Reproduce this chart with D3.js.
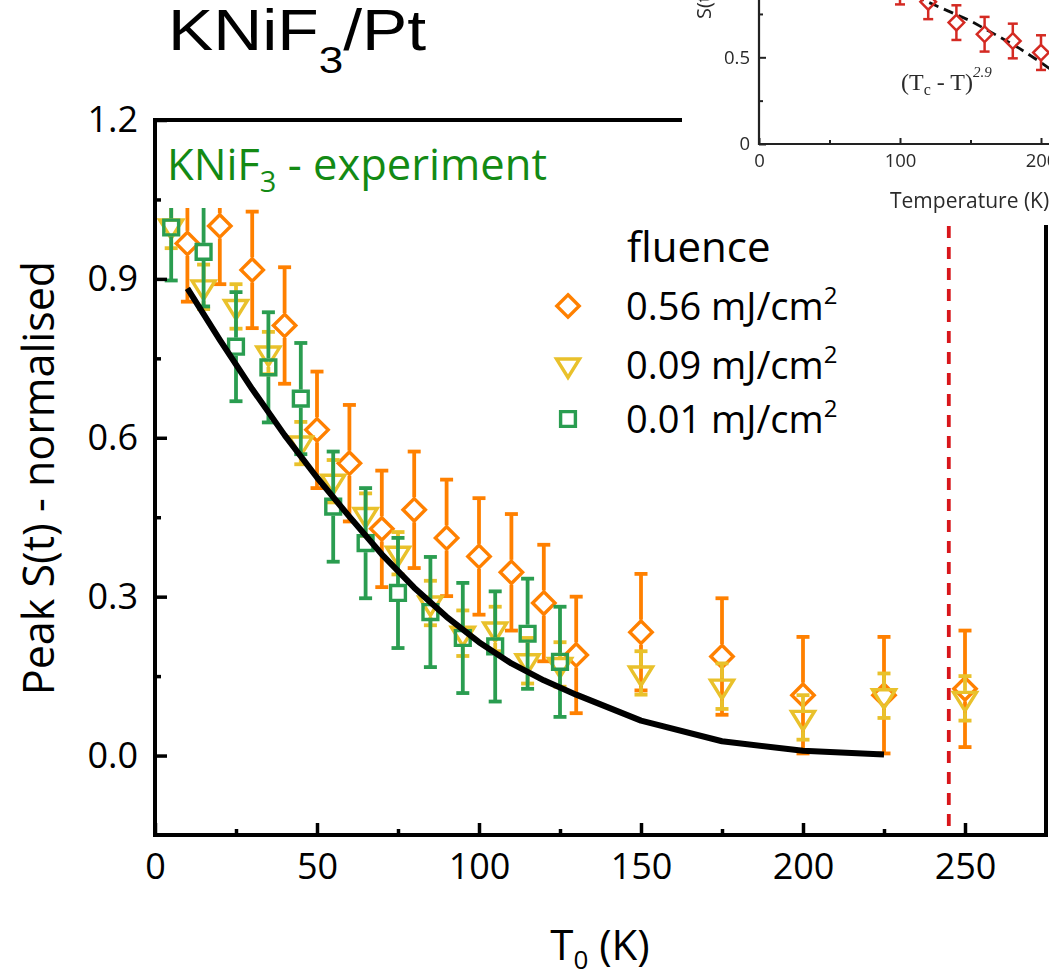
<!DOCTYPE html>
<html>
<head>
<meta charset="utf-8">
<script src="https://cdn.jsdelivr.net/npm/d3@7"></script>
<style>
  body { margin: 0; background: #fff; }
  svg { display: block; }
</style>
</head>
<body>
<svg id="chart" width="1049" height="973"></svg>
<script>
// ---- Peak S(t) vs initial temperature, three pump fluences ----
const T_HIGH = [10, 20, 30, 40, 50, 60, 70, 80, 90, 100, 110, 120, 130, 150, 175, 200, 225, 250];
const S_HIGH = [0.967, 1.0, 0.917, 0.812, 0.615, 0.552, 0.428, 0.464, 0.411, 0.376, 0.346, 0.288, 0.19, 0.233, 0.187, 0.114, 0.114, 0.126];
const E_HIGH = [0.11, 0.11, 0.11, 0.11, 0.11, 0.11, 0.11, 0.11, 0.11, 0.11, 0.11, 0.11, 0.11, 0.11, 0.11, 0.11, 0.11, 0.11];

const T_MID = [5, 15, 25, 35, 45, 55, 65, 75, 85, 95, 105, 115, 125, 150, 175, 200, 225, 250];
const S_MID = [1.0, 0.885, 0.848, 0.76, 0.59, 0.518, 0.455, 0.382, 0.288, 0.231, 0.239, 0.179, 0.172, 0.156, 0.131, 0.072, 0.113, 0.108];
const E_MID = [0.042, 0.042, 0.042, 0.04, 0.04, 0.04, 0.04, 0.04, 0.042, 0.043, 0.042, 0.043, 0.042, 0.041, 0.043, 0.042, 0.042, 0.042];

const T_LOW = [5, 15, 25, 35, 45, 55, 65, 75, 85, 95, 105, 115, 125];
const S_LOW = [0.997, 0.951, 0.772, 0.733, 0.674, 0.47, 0.401, 0.307, 0.271, 0.222, 0.206, 0.23, 0.177];
const E_LOW = [0.1, 0.103, 0.103, 0.104, 0.105, 0.104, 0.104, 0.104, 0.104, 0.104, 0.104, 0.104, 0.104];

// model curve
const T_MODEL = [10, 20, 30, 40, 50, 60, 70, 80, 90, 100, 110, 120, 130, 150, 175, 200, 225];
const S_MODEL = [0.882, 0.785, 0.692, 0.605, 0.525, 0.451, 0.38, 0.317, 0.262, 0.214, 0.174, 0.142, 0.115, 0.066, 0.027, 0.009, 0.002];

const T_CRITICAL = 245;

const X_TICKS = [0, 50, 100, 150, 200, 250];
const X_MINOR = [25, 75, 125, 175, 225];
const Y_TICKS = [0.0, 0.3, 0.6, 0.9, 1.2];
const Y_MINOR = [0.15, 0.45, 0.75, 1.05];

const LEGEND_LABELS = ["0.56", "0.09", "0.01"];

// ---- small panel: static order parameter vs temperature ----
const T_STATIC = [100, 120, 140, 160, 180, 200];
const S_STATIC = [0.9, 0.82, 0.7, 0.633, 0.594, 0.527];
const E_STATIC = [0.095, 0.1, 0.1, 0.1, 0.1, 0.1];
const T_STATIC_FIT = [100, 125, 150, 170, 185, 200, 212];
const S_STATIC_FIT = [0.89, 0.8, 0.71, 0.62, 0.55, 0.47, 0.4];
const INSET_X_TICKS = [0, 100, 200];
const INSET_X_MINOR = [50, 150];
const INSET_Y_TICKS = [0, 0.5];
const INSET_Y_MINOR = [0.25, 0.75];

const svg = d3.select("#chart");
const FONT = "'Open Sans', 'Noto Sans', sans-serif";

const x = d3.scaleLinear().domain([0, 275]).range([155, 1046]);
const y = d3.scaleLinear().domain([-0.15, 1.2]).range([835, 120]);

// symbol outlines
const diamondPath = r => `M0,${-r}L${r},0L0,${r}L${-r},0Z`;
const squarePath = h => `M${-h},${-h}H${h}V${h}H${-h}Z`;
const triDownPath = (w, t, a) => `M${-w},${-t}H${w}L0,${a}Z`;

const series = [
  { T: T_HIGH, S: S_HIGH, E: E_HIGH, color: "#ff8000", path: diamondPath(11.2), gapTop: 12.5, gapBot: 12.5 },
  { T: T_MID,  S: S_MID,  E: E_MID,  color: "#e9c12b", path: triDownPath(11.5, 6, 12.5), gapTop: 7.5, gapBot: 14 },
  { T: T_LOW,  S: S_LOW,  E: E_LOW,  color: "#2a9d50", path: squarePath(7.4), gapTop: 9, gapBot: 9 }
];

const BAR_W = 3.8;
const dataG = svg.append("g");
series.forEach(s => {
  const g = dataG.append("g");
  const pts = s.T.map((t, i) => ({ t, v: s.S[i], e: s.E[i] }));
  pts.forEach(p => {
    const cx = x(p.t), cy = y(p.v);
    const yTop = y(p.v + p.e), yBot = y(p.v - p.e);
    if (cy - s.gapTop > yTop)
      g.append("line").attr("x1", cx).attr("x2", cx).attr("y1", yTop).attr("y2", cy - s.gapTop);
    if (cy + s.gapBot < yBot)
      g.append("line").attr("x1", cx).attr("x2", cx).attr("y1", cy + s.gapBot).attr("y2", yBot);
    [yTop, yBot].forEach(yc =>
      g.append("line").attr("x1", cx - 6.5).attr("x2", cx + 6.5).attr("y1", yc).attr("y2", yc));
  });
  g.selectAll("line").attr("stroke", s.color).attr("stroke-width", BAR_W);
  g.selectAll("path.sym").data(pts).join("path")
    .attr("class", "sym")
    .attr("d", s.path)
    .attr("transform", d => `translate(${x(d.t)},${y(d.v)})`)
    .attr("fill", "none")
    .attr("stroke", s.color)
    .attr("stroke-width", 3.4)
    .attr("stroke-linejoin", "miter");
});

// model curve
const modelPts = T_MODEL.map((t, i) => [x(t), y(S_MODEL[i])]);
svg.append("path")
  .attr("d", d3.line()(modelPts))
  .attr("fill", "none")
  .attr("stroke", "#000")
  .attr("stroke-width", 6)
  .attr("stroke-linejoin", "round");

// critical temperature marker
svg.append("line")
  .attr("x1", x(T_CRITICAL)).attr("x2", x(T_CRITICAL))
  .attr("y1", 226).attr("y2", 833)
  .attr("stroke", "#d8161b").attr("stroke-width", 3.8)
  .attr("stroke-dasharray", "12 9");

// experiment label with its white backing
svg.append("rect").attr("x", 159).attr("y", 124).attr("width", 400).attr("height", 84).attr("fill", "#fff");
const lab = svg.append("text").attr("x", 167).attr("y", 180)
  .attr("font-family", FONT).attr("font-size", 43.5).attr("fill", "#138a14");
lab.append("tspan").text("KNiF");
lab.append("tspan").attr("font-size", 29).attr("dy", 12).text("3");
lab.append("tspan").attr("dy", -12).text(" - experiment");

// axes
const axG = svg.append("g").attr("font-family", FONT);
const xAx = axG.append("g").attr("transform", "translate(0,835)")
  .call(d3.axisBottom(x).tickValues(X_TICKS).tickFormat(d3.format("d")).tickSize(-12).tickPadding(18));
const xMin = axG.append("g").attr("transform", "translate(0,835)")
  .call(d3.axisBottom(x).tickValues(X_MINOR).tickFormat("").tickSize(-6));
const yAx = axG.append("g").attr("transform", "translate(155,0)")
  .call(d3.axisLeft(y).tickValues(Y_TICKS).tickFormat(d3.format(".1f")).tickSize(-12).tickPadding(17));
const yMin = axG.append("g").attr("transform", "translate(155,0)")
  .call(d3.axisLeft(y).tickValues(Y_MINOR).tickFormat("").tickSize(-6));
[xAx, xMin, yAx, yMin].forEach(a => {
  a.select(".domain").remove();
  a.selectAll(".tick line").attr("stroke", "#000").attr("stroke-width", 3.5);
  a.selectAll(".tick text").attr("font-size", 36).attr("fill", "#000").attr("font-family", FONT);
});

// frame
svg.append("rect").attr("x", 155).attr("y", 120).attr("width", 891).attr("height", 715)
  .attr("fill", "none").attr("stroke", "#000").attr("stroke-width", 4);

// axis titles
const xt = svg.append("text").attr("x", 600).attr("y", 960).attr("text-anchor", "middle")
  .attr("font-family", FONT).attr("font-size", 42).attr("fill", "#000");
xt.append("tspan").text("T");
xt.append("tspan").attr("font-size", 26).attr("dy", 9).text("0");
xt.append("tspan").attr("dy", -9).text(" (K)");

svg.append("text")
  .attr("transform", "translate(54,478) rotate(-90)")
  .attr("text-anchor", "middle")
  .attr("font-family", FONT).attr("font-size", 43).attr("fill", "#000")
  .text("Peak S(t) - normalised");

// title
const title = svg.append("text")
  .attr("transform", "translate(168,50) scale(1.19,1)")
  .attr("font-family", "'Liberation Sans', Arial, sans-serif").attr("font-size", 57).attr("fill", "#000");
title.append("tspan").text("KNiF");
title.append("tspan").attr("font-size", 37).attr("dy", 23).text("3");
title.append("tspan").attr("dy", -23).text("/Pt");

// legend
const leg = svg.append("g").attr("font-family", FONT);
leg.append("text").attr("x", 627).attr("y", 262).attr("font-size", 42).text("fluence");
const legRows = [306, 365, 419];
series.forEach((s, i) => {
  leg.append("path").attr("d", s.path)
    .attr("transform", `translate(568,${legRows[i]})`)
    .attr("fill", "none").attr("stroke", s.color).attr("stroke-width", 3.4);
  const t = leg.append("text").attr("x", 626).attr("y", legRows[i] + 14).attr("font-size", 38).attr("fill", "#000");
  t.append("tspan").text(LEGEND_LABELS[i] + " mJ/cm");
  t.append("tspan").attr("font-size", 24).attr("dy", -16).text("2");
});

// ---- small panel ----
const defs = svg.append("defs");
defs.append("clipPath").attr("id", "insetClip")
  .append("rect").attr("x", 682).attr("y", 0).attr("width", 367).attr("height", 225);
defs.append("filter").attr("id", "soft").append("feGaussianBlur").attr("stdDeviation", 0.55);

svg.append("rect").attr("x", 682).attr("y", 0).attr("width", 367).attr("height", 225).attr("fill", "#fff");
const inset = svg.append("g").attr("clip-path", "url(#insetClip)")
  .append("g").attr("filter", "url(#soft)");

const ix = d3.scaleLinear().domain([0, 200]).range([759, 1041]);
const iy = d3.scaleLinear().domain([0, 0.5]).range([144, 57.3]);
const INK = "#2a2a2a";

const ixAx = inset.append("g").attr("transform", "translate(0,144)")
  .call(d3.axisBottom(ix).tickValues(INSET_X_TICKS).tickFormat(d3.format("d")).tickSize(-6).tickPadding(10));
const ixMin = inset.append("g").attr("transform", "translate(0,144)")
  .call(d3.axisBottom(ix).tickValues(INSET_X_MINOR).tickFormat("").tickSize(-4));
const iyAx = inset.append("g").attr("transform", "translate(759,0)")
  .call(d3.axisLeft(iy).tickValues(INSET_Y_TICKS).tickFormat(d => d === 0 ? "0" : d3.format(".1f")(d)).tickSize(-7).tickPadding(9));
const iyMin = inset.append("g").attr("transform", "translate(759,0)")
  .call(d3.axisLeft(iy).tickValues(INSET_Y_MINOR).tickFormat("").tickSize(-4));
[ixAx, ixMin, iyAx, iyMin].forEach(a => {
  a.select(".domain").remove();
  a.selectAll(".tick line").attr("stroke", "#222").attr("stroke-width", 2);
  a.selectAll(".tick text").attr("font-size", 18.5).attr("fill", INK).attr("font-family", FONT);
});
inset.append("line").attr("x1", 759).attr("x2", 1060).attr("y1", 144).attr("y2", 144)
  .attr("stroke", "#222").attr("stroke-width", 2.2);
inset.append("line").attr("x1", 759).attr("x2", 759).attr("y1", -5).attr("y2", 145)
  .attr("stroke", "#222").attr("stroke-width", 2.2);

// fit line
inset.append("path")
  .attr("d", d3.line()(T_STATIC_FIT.map((t, i) => [ix(t), iy(S_STATIC_FIT[i])])))
  .attr("fill", "none").attr("stroke", "#111").attr("stroke-width", 2.8)
  .attr("stroke-dasharray", "10 6");

// static data
const RED = "#d42a24";
T_STATIC.forEach((t, i) => {
  const cx = ix(t), cy = iy(S_STATIC[i]);
  const yT = iy(S_STATIC[i] + E_STATIC[i]), yB = iy(S_STATIC[i] - E_STATIC[i]);
  const g = inset.append("g").attr("stroke", RED).attr("stroke-width", 2.5).attr("fill", "none");
  g.append("line").attr("x1", cx).attr("x2", cx).attr("y1", yT).attr("y2", cy - 8);
  g.append("line").attr("x1", cx).attr("x2", cx).attr("y1", cy + 8).attr("y2", yB);
  [yT, yB].forEach(yc => g.append("line").attr("x1", cx - 5).attr("x2", cx + 5).attr("y1", yc).attr("y2", yc));
  g.append("path").attr("d", diamondPath(7.8)).attr("transform", `translate(${cx},${cy})`);
});

const fitLab = inset.append("text").attr("x", 901).attr("y", 90)
  .attr("font-family", "'Liberation Serif', 'Times New Roman', serif").attr("font-size", 24).attr("fill", INK);
fitLab.append("tspan").text("(T");
fitLab.append("tspan").attr("font-size", 16).attr("dy", 5).text("c");
fitLab.append("tspan").attr("dy", -5).text(" - T)");
fitLab.append("tspan").attr("font-size", 15).attr("font-style", "italic").attr("dy", -13).text("2.9");

inset.append("text").attr("x", 890).attr("y", 208)
  .attr("font-family", FONT).attr("font-size", 21).attr("fill", INK)
  .text("Temperature (K)");

inset.append("text")
  .attr("transform", "translate(711,19) rotate(-90)")
  .attr("font-family", FONT).attr("font-size", 20).attr("fill", INK)
  .text("S(t)");
</script>
</body>
</html>
